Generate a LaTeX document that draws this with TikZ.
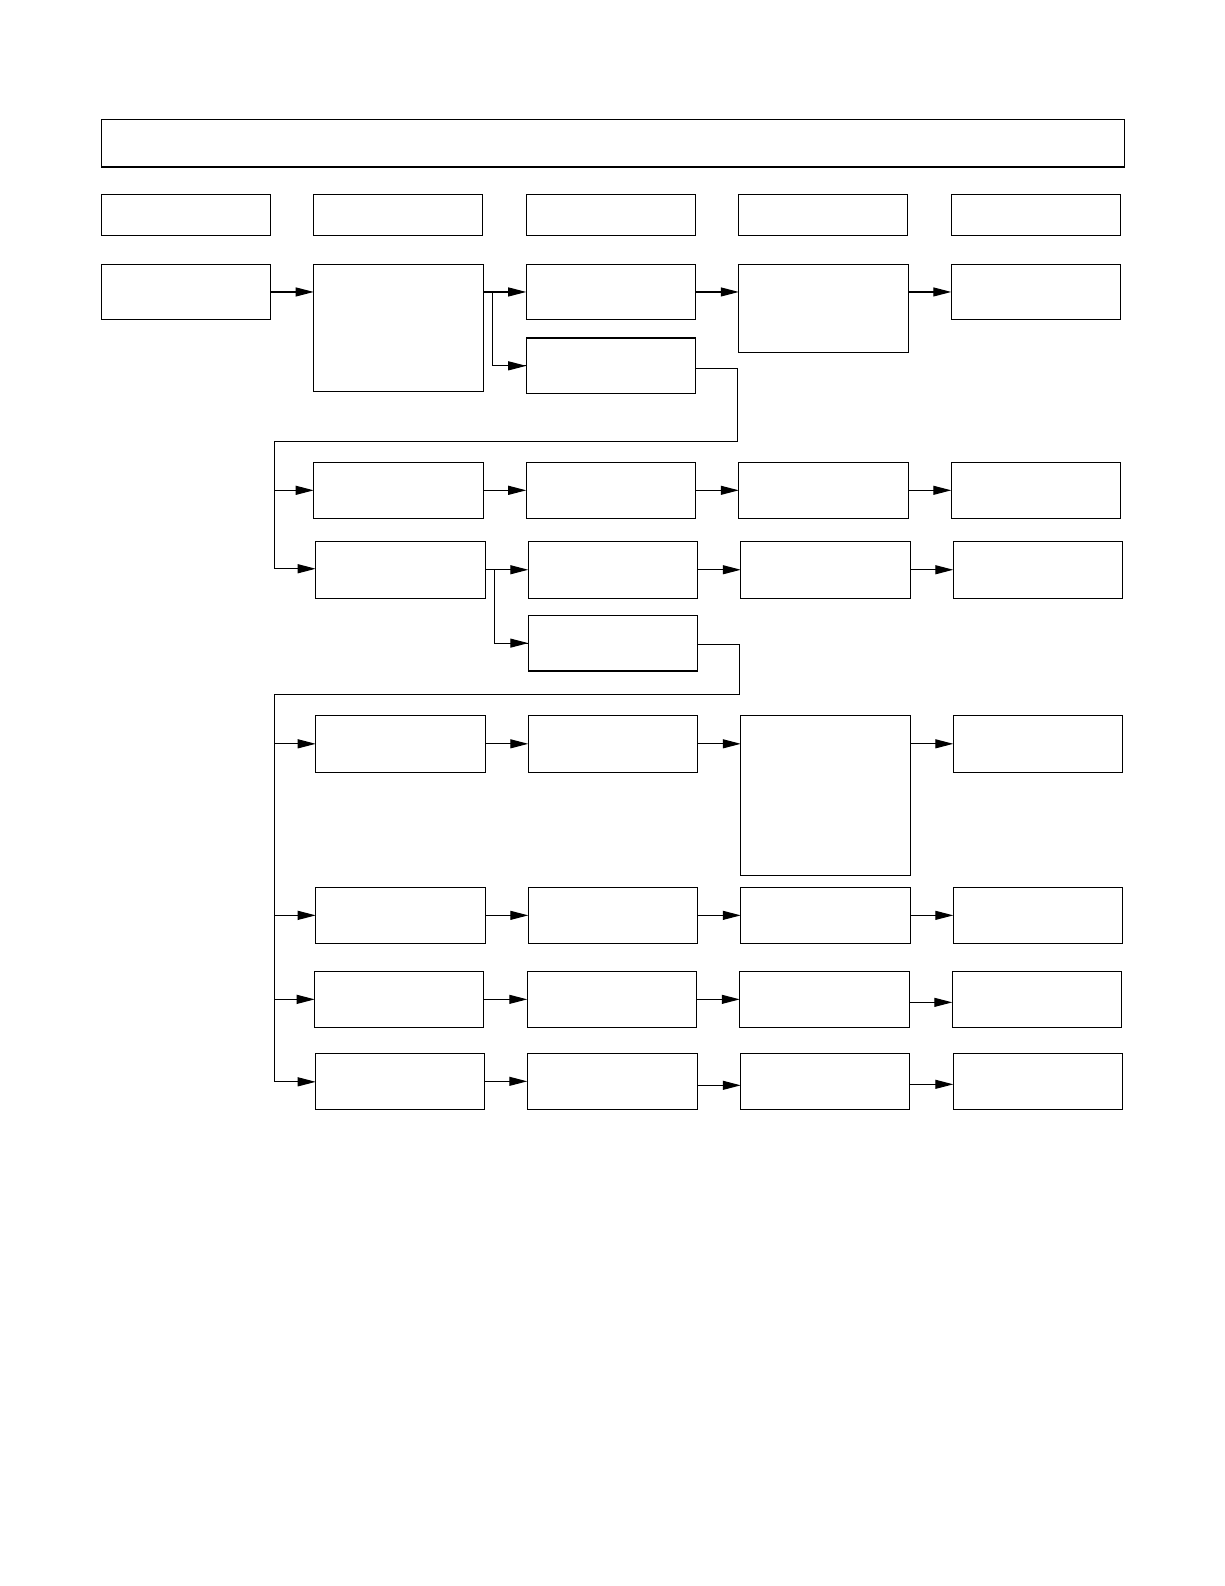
\documentclass[tikz,border=0pt]{standalone}
\usetikzlibrary{arrows.meta,fit}
\tikzset{
  box/.style={draw=black, line width=1.1pt, inner sep=0pt, outer sep=0pt, fill=white},
  arr/.style={draw=black, line width=1.1pt, -{Triangle[length=18pt,width=9pt]}},
  bus/.style={draw=black, line width=1.1pt}
}
\newcommand\bx[5]{\node[box,fit={(#2,#3) (#4,#5)}] (#1) {};}
\begin{document}
\begin{tikzpicture}[x=1.012pt,y=-1.012pt]
\useasboundingbox[fill=white] (0,0) rectangle (1209.5,1567.2);
% title
\bx{T}{100}{118}{1111}{165}
% headers
\bx{H1}{100}{192}{267}{233}
\bx{H2}{310}{192}{477}{233}
\bx{H3}{520}{192}{687}{233}
\bx{H4}{730}{192}{897}{233}
\bx{H5}{940}{192}{1107}{233}
% row 1
\bx{A1}{100}{261}{267}{316}
\bx{B1}{310}{261}{478}{387}
\bx{C1}{520}{261}{687}{316}
\bx{D1}{730}{261}{898}{348}
\bx{E1}{940}{261}{1107}{316}
\bx{F1}{520}{334}{687}{389}
% row 2
\bx{B2}{310}{457}{478}{512}
\bx{C2}{520}{457}{687}{512}
\bx{D2}{730}{457}{898}{512}
\bx{E2}{940}{457}{1107}{512}
% row 3
\bx{B3}{312}{535}{480}{591}
\bx{C3}{522}{535}{689}{591}
\bx{D3}{732}{535}{900}{591}
\bx{E3}{942}{535}{1109}{591}
\bx{F3}{522}{608}{689}{663}
% row 4
\bx{B4}{312}{707}{480}{763}
\bx{C4}{522}{707}{689}{763}
\bx{D4}{732}{707}{900}{865}
\bx{E4}{942}{707}{1109}{763}
% row 5
\bx{B5}{312}{877}{480}{932}
\bx{C5}{522}{877}{689}{932}
\bx{D5}{732}{877}{900}{932}
\bx{E5}{942}{877}{1109}{932}
% row 6
\bx{B6}{311}{960}{478}{1015}
\bx{C6}{521}{960}{688}{1015}
\bx{D6}{731}{960}{899}{1015}
\bx{E6}{941}{960}{1108}{1015}
% row 7
\bx{B7}{312}{1041}{479}{1096}
\bx{C7}{521}{1041}{689}{1096}
\bx{D7}{732}{1041}{899}{1096}
\bx{E7}{942}{1041}{1109}{1096}

% coordinates
\coordinate (k1) at (487,290);
\coordinate (k3) at (489,563);
\coordinate (p1) at (729,364);
\coordinate (p2) at (729,436);
\coordinate (p3) at (271,436);
\coordinate (p4) at (271,562);
\coordinate (q1) at (731,637);
\coordinate (q2) at (731,686);
\coordinate (q3) at (271,686);
\coordinate (q4) at (271,1069);

% row 1 connectors
\draw[arr] (A1.east) -- (B1.west |- A1.east);
\draw[arr] (B1.east |- C1.west) -- (C1.west);
\draw[bus] (k1) |- (F1.west);
\draw[arr] (k1 |- F1.west) -- (F1.west);
\draw[arr] (C1.east) -- (D1.west |- C1.east);
\draw[arr] (D1.east |- E1.west) -- (E1.west);
\draw[bus] (F1.east |- p1) -- (p1) -- (p2) -- (p3) -- (p4);
% row 2
\draw[arr] (p3 |- B2.west) -- (B2.west);
\draw[arr] (B2.east) -- (C2.west);
\draw[arr] (C2.east) -- (D2.west);
\draw[arr] (D2.east) -- (E2.west);
% row 3
\draw[arr] (p4) -- (B3.west |- p4);
\draw[arr] (B3.east |- k3) -- (C3.west |- k3);
\draw[bus] (k3) |- (F3.west);
\draw[arr] (k3 |- F3.west) -- (F3.west);
\draw[arr] (C3.east) -- (D3.west);
\draw[arr] (D3.east) -- (E3.west);
\draw[bus] (F3.east |- q1) -- (q1) -- (q2) -- (q3) -- (q4);
% row 4
\draw[arr] (q3 |- B4.west) -- (B4.west);
\draw[arr] (B4.east) -- (C4.west);
\draw[arr] (C4.east) -- (D4.west |- C4.east);
\draw[arr] (D4.east |- E4.west) -- (E4.west);
% row 5
\draw[arr] (q3 |- B5.west) -- (B5.west);
\draw[arr] (B5.east) -- (C5.west);
\draw[arr] (C5.east) -- (D5.west);
\draw[arr] (D5.east) -- (E5.west);
% row 6
\draw[arr] (q3 |- B6.west) -- (B6.west);
\draw[arr] (B6.east) -- (C6.west);
\draw[arr] (C6.east) -- (D6.west);
\draw[arr] ([yshift=-3pt]D6.east) -- ([yshift=-3pt]E6.west);
% row 7
\draw[arr] (q4) -- (B7.west |- q4);
\draw[arr] (B7.east) -- (C7.west);
\draw[arr] ([yshift=-4pt]C7.east) -- ([yshift=-4pt]D7.west);
\draw[arr] ([yshift=-3pt]D7.east) -- ([yshift=-3pt]E7.west);
\end{tikzpicture}
\end{document}
